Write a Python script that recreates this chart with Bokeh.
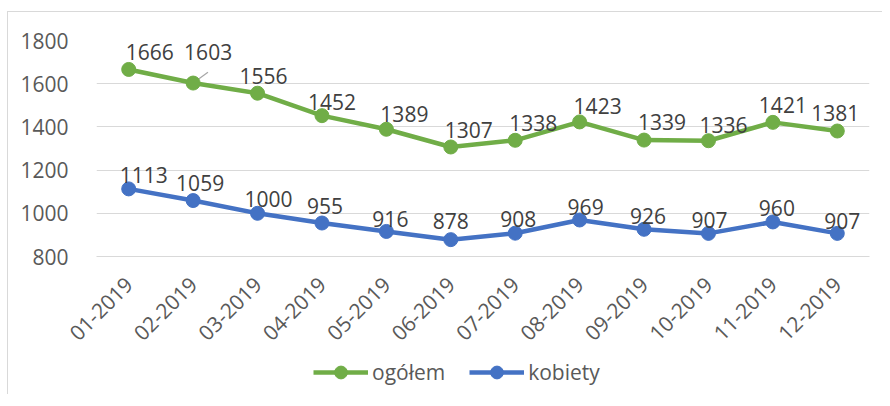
from bokeh.plotting import figure
from bokeh.layouts import column
from bokeh.models import (ColumnDataSource, Range1d, FactorRange, FixedTicker,
                          Legend, LegendItem)
from bokeh.transform import dodge
from bokeh.core.properties import value
from bokeh.embed import file_html
from bokeh.resources import INLINE
import math

# ---- data ----
months = ["01-2019", "02-2019", "03-2019", "04-2019", "05-2019", "06-2019",
          "07-2019", "08-2019", "09-2019", "10-2019", "11-2019", "12-2019"]
ogolem = [1666, 1603, 1556, 1452, 1389, 1307, 1338, 1423, 1339, 1336, 1421, 1381]
kobiety = [1113, 1059, 1000, 955, 916, 878, 908, 969, 926, 907, 960, 907]
y_ticks = [800, 1000, 1200, 1400, 1600, 1800]
series_names = ["ogółem", "kobiety"]

# ---- styling: data-label pixel offsets (as placed in the original) ----
og_dx = [21, 15, 6, 10, 18, 18, 18, 18, 18, 15, 10, -2]
og_dy = [-17, -31, -17, -14, -15, -17, -17, -16, -18, -16, -17, -18]
kb_dx = [15, 7, 11, 3, 4, 0, 3, 6, 4, 1, 4, 5]
kb_dy = [-14, -18, -14, -17, -12, -19, -14, -13, -13, -13, -14, -12]

GREEN = "#70AD47"
BLUE = "#4472C4"
TXT = "#595959"
GRID = "#D9D9D9"
FONT = "Open Sans"
FS = "21px"

xr = FactorRange(factors=months)
yr = Range1d(800, 1800)

p = figure(width=882, height=350, output_backend="svg", toolbar_location=None,
           x_range=xr, y_range=yr,
           min_border_left=96, min_border_right=13, min_border_top=40,
           min_border_bottom=94)
p.border_fill_alpha = 0
p.background_fill_alpha = 0
p.outline_line_color = None

# axes
p.yaxis.ticker = FixedTicker(ticks=y_ticks)
p.yaxis.axis_line_color = None
p.yaxis.major_tick_line_color = None
p.yaxis.minor_tick_line_color = None
p.yaxis.major_label_standoff = 22
p.xaxis.axis_line_color = GRID
p.xaxis.major_tick_line_color = None
p.xaxis.minor_tick_line_color = None
p.xaxis.major_label_orientation = math.pi / 4
p.xaxis.major_label_standoff = 18
for ax in (p.xaxis, p.yaxis):
    ax.major_label_text_font = FONT
    ax.major_label_text_font_size = FS
    ax.major_label_text_color = TXT
p.xgrid.grid_line_color = None
p.ygrid.grid_line_color = GRID
p.ygrid.grid_line_width = 1

src_og = ColumnDataSource(dict(x=months, y=ogolem, t=[str(v) for v in ogolem], dx=og_dx, dy=og_dy))
src_kb = ColumnDataSource(dict(x=months, y=kobiety, t=[str(v) for v in kobiety], dx=kb_dx, dy=kb_dy))

# leader line for the moved 1603 label
lead = ColumnDataSource(dict(x=[months[1]], y0=[ogolem[1]], y1=[ogolem[1] + 50]))
p.segment(x0="x", y0="y0", x1=dodge("x", 0.23, range=xr), y1="y1", source=lead,
          line_color="#A6A6A6", line_width=1.2)

p.line("x", "y", source=src_og, line_color=GREEN, line_width=4.5, line_join="round")
p.scatter("x", "y", source=src_og, size=14, fill_color=GREEN, line_color=GREEN)
p.line("x", "y", source=src_kb, line_color=BLUE, line_width=4.5, line_join="round")
p.scatter("x", "y", source=src_kb, size=14, fill_color=BLUE, line_color=BLUE)

for s in (src_og, src_kb):
    p.text("x", "y", text="t", source=s, x_offset="dx", y_offset="dy",
           text_align="center", text_baseline="middle",
           text_font=value(FONT), text_font_size=FS, text_color="#404040")

# ---- legend strip below the chart ----
lg = figure(width=882, height=44, output_backend="svg", toolbar_location=None,
            x_range=xr, y_range=yr,
            x_axis_location=None, y_axis_location=None,
            min_border_left=96, min_border_right=13, min_border_top=0, min_border_bottom=0)
lg.grid.visible = False
lg.outline_line_color = None
lg.border_fill_alpha = 0
lg.background_fill_alpha = 0
items = []
for name, col, src in zip(series_names, [GREEN, BLUE], [src_og, src_kb]):
    r1 = lg.line("x", "y", source=src, line_color=col, line_width=4.5, visible=False)
    r2 = lg.scatter("x", "y", source=src, size=14, fill_color=col, line_color=col, visible=False)
    items.append(LegendItem(label=name, renderers=[r1, r2]))
legend = Legend(items=items, orientation="horizontal", location=(217, 6),
                label_text_font=FONT, label_text_font_size=FS, label_text_color=TXT,
                glyph_width=55, glyph_height=32, label_standoff=4, spacing=24,
                padding=0, margin=0, border_line_color=None,
                background_fill_alpha=0, inactive_fill_alpha=0,
                click_policy="none")
lg.add_layout(legend, "center")

layout = column(p, lg, spacing=0)
# chart-area border (left and top edges are visible in the original)
layout.styles = {"background-image": "linear-gradient(#D9D9D9,#D9D9D9), linear-gradient(#D9D9D9,#D9D9D9)",
                 "background-size": "1px 100%, 100% 1px",
                 "background-position": "7px 11px, 7px 11px",
                 "background-repeat": "no-repeat",
                 "background-color": "white"}

open("out.html", "w").write(file_html(layout, INLINE))
